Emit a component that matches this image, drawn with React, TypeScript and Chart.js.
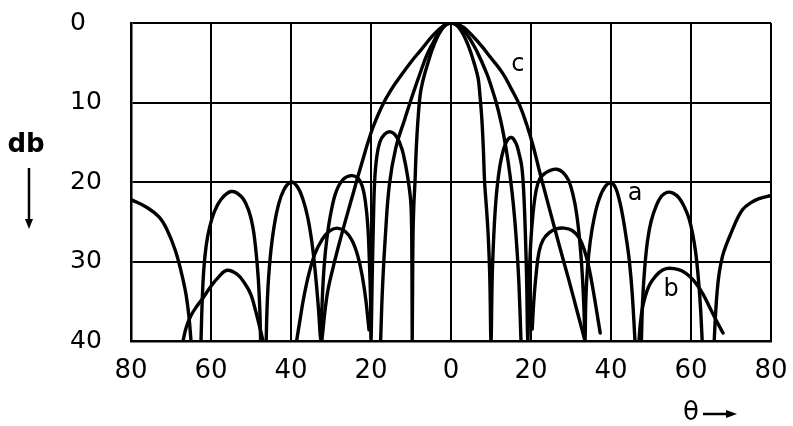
import React, { useEffect, useRef } from "react";
import { Chart, registerables } from "chart.js";

Chart.register(...registerables);

const xTicks = [-80, -60, -40, -20, 0, 20, 40, 60, 80];
const yTicks = [0, 10, 20, 30, 40];

// curve a (theta in degrees, level in db below peak; null = break between lobes)
const aTheta = [
  -80, -76, -73, -71, -69, -67.5, -66.3, -65.5, -65, -64,
  -62.5, -62.2, -61.8, -61.2, -60.4, -59.2, -57.5, -55, -52.5, -50.8, -49.6, -48.8, -48.2, -47.8, -47.6, -47,
  -46.2, -46, -45.6, -45, -44.2, -43.2, -41.8, -40, -38.4, -37, -35.8, -34.8, -34, -33.2,
  -32.5, -32.2, -31.7, -31, -30, -28.7, -27, -25, -23.3, -22.2, -21.4, -20.8, -20.4, -20.1,
  -20, -19.7, -19.4, -19.1, -18.6, -17.8, -16.6, -15.1, -13.6, -12.3, -11.3, -10.5, -10, -9.8,
  -9.7, -9.6, -9.5, -9.3, -9, -8.7, -8.3, -7.7, -7, -6, -4.2, -2, 0,
  2, 4.2, 6, 6.8, 7.2, 7.7, 8.1, 8.4, 8.9, 9.3, 9.7,
  10, 10.3, 10.7, 11.2, 11.8, 12.6, 13.8, 15.1, 16.3, 17, 17.7, 18.2, 18.6, 18.9,
  19.2, 19.5, 19.9, 20.5, 21.3, 22.2, 23.5, 25, 26.5, 28, 29.4, 30.5, 31.4, 32.2, 32.8, 33.2,
  33.5, 33.7, 34.1, 34.8, 35.8, 37, 38.5, 40, 41.2, 42.2, 43, 43.8, 44.6, 45.3, 46, 46.8,
  47.6, 47.9, 48.4, 49.1, 50, 51.3, 52.6, 54, 55.5, 57, 58.4, 59.5, 60.4, 61.2, 61.9, 62.4, 62.8, 64,
  65.8, 66.1, 66.5, 67.1, 67.9, 68.9, 70.2, 71.6, 73, 75, 77, 80,
];
const aDb = [
  22.2, 23.2, 24.4, 26, 28.5, 31.2, 34, 37, 40, null,
  40, 35, 31, 28, 25.8, 23.8, 22.2, 21.2, 21.8, 23.3, 25.5, 28.5, 32, 36, 40, null,
  40, 36, 32, 28.5, 25.5, 23, 21, 20, 20.6, 22.2, 24.5, 27.5, 31, 35.5,
  40, 35, 30.5, 27, 23.8, 21.2, 19.7, 19.2, 19.5, 20.5, 22.5, 25.5, 30, 35,
  40, 32, 25, 20, 17, 15, 14, 13.7, 14.3, 15.8, 18, 20.5, 23, 28,
  40, 33, 26.7, 23, 20, 16, 12.5, 9, 7.2, 5.4, 2.7, 0.6, 0,
  0.6, 2.7, 5.4, 7, 8.9, 12, 16, 20, 23.5, 26.7, 32,
  40, 32, 26.7, 22.5, 19.5, 17, 15, 14.4, 15.2, 16.4, 18.1, 21.5, 26.7, 32,
  40, 33, 28, 24, 21, 19.6, 18.9, 18.5, 18.4, 18.8, 19.8, 21.6, 24, 27.5, 31.5, 35.5,
  40, 35, 31, 27.5, 24.5, 22.2, 20.6, 20.1, 20.8, 22.5, 24.5, 27, 30, 34, 40, null,
  40, 35, 31, 27.5, 25, 23, 21.8, 21.3, 21.4, 22, 23.2, 24.6, 26.5, 29, 32.5, 36, 40, null,
  40, 37, 34, 31.3, 29.3, 27.8, 26.2, 24.6, 23.4, 22.6, 22.1, 21.7,
];

// curve b
const bTheta = [
  -67, -66.2, -65, -63.5, -62, -60, -58, -56, -53.5, -51.5, -50, -48.8, -47.8, -47, -43,
  -38.6, -37.8, -36.8, -35.5, -34, -32.3, -30.5, -28.5, -26.5, -24.8, -23.3, -22.2, -21.3, -20.5, -19,
  -17.6, -17.1, -16.4, -15.4, -13.8, -11.5, -9.5, -7.5, -6, -4.2, -2, 0,
  2, 4.2, 6.5, 8.9, 10.2, 11.3, 12.3, 13.2, 14.3, 15.2, 15.9, 16.5, 17, 17.5, 19,
  20.3, 20.7, 21.3, 22, 23, 24.5, 26.3, 28.3, 30.3, 32, 33.3, 34.5, 35.5, 36.5, 37.3, 42,
  47, 47.3, 47.8, 48.5, 49.3, 50.3, 52, 53.8, 55.8, 57.8, 59.7, 61.3, 63, 64.5, 66.3, 68,
];
const bDb = [
  40, 38.3, 36.8, 35.6, 34.6, 33.1, 31.9, 31.1, 31.6, 32.8, 34.2, 36.3, 38.3, 40, null,
  40, 37.5, 34.5, 31.5, 29, 27.3, 26.2, 25.8, 26.2, 27.3, 29.3, 31.8, 34.8, 38.6, null,
  40, 33, 26.7, 20.3, 15.7, 12, 8.9, 6, 4, 2.2, 0.5, 0,
  0.4, 1.6, 3.6, 6.3, 8.2, 10, 12, 14.2, 17.5, 21, 24.5, 28.5, 33, 40, null,
  38.5, 35, 31.5, 28.8, 27.3, 26.4, 25.9, 25.8, 26.1, 27, 28.5, 30.8, 33.5, 36.5, 39, null,
  40, 38, 36, 34.5, 33.3, 32.4, 31.4, 30.9, 30.9, 31.2, 31.9, 32.8, 34.1, 35.6, 37.4, 39,
];

// curve c
const cTheta = [-32.3, -31, -29.5, -27.5, -25, -22.4, -19.7, -17.2, -15.1, -12.5, -10, -7.7, -4.4, -1.5, 0, 1.9, 4, 7.3, 10, 12.9, 15.1, 17.2, 19, 20.5, 22, 23.3, 25, 27.3, 29.5, 31.5, 33.5];
const cDb = [40, 34.3, 30.8, 26.9, 22.4, 17.8, 13.4, 10.4, 8.5, 6.6, 4.9, 3.5, 1.5, 0.2, 0, 0.2, 0.9, 2.7, 4.4, 6.3, 8.3, 10.4, 12.9, 15.4, 18.4, 20.9, 24.1, 28.4, 32.4, 36.2, 40];

const curveNames = ["a", "b", "c"];
const labelTheta = [46, 55, 16.7];
const labelDb = [21.5, 33.6, 5.3];

const FONT = '"DejaVu Sans", sans-serif';

function toPoints(xs: number[], ys: (number | null)[]) {
  return xs.map((x, i) => ({ x, y: ys[i] }));
}

const decorPlugin = {
  id: "decor",
  afterDraw(chart: any) {
    const { ctx, chartArea, scales } = chart;
    ctx.save();
    ctx.fillStyle = "#000";
    ctx.strokeStyle = "#000";
    ctx.textAlign = "center";
    ctx.textBaseline = "middle";
    ctx.font = `24px ${FONT}`;
    curveNames.forEach((n, i) => {
      ctx.fillText(n, scales.x.getPixelForValue(labelTheta[i]), scales.y.getPixelForValue(labelDb[i]));
    });
    ctx.font = `bold 26px ${FONT}`;
    const dbx = chartArea.left - 105;
    const dby = chartArea.top + 122;
    ctx.fillText("db", dbx, dby);
    ctx.lineWidth = 2.5;
    const ax = chartArea.left - 102;
    ctx.beginPath();
    ctx.moveTo(ax, dby + 23);
    ctx.lineTo(ax, dby + 78);
    ctx.stroke();
    ctx.beginPath();
    ctx.moveTo(ax - 4, dby + 74);
    ctx.lineTo(ax + 4, dby + 74);
    ctx.lineTo(ax, dby + 84);
    ctx.closePath();
    ctx.fill();
    ctx.font = `26px ${FONT}`;
    const tx = chartArea.right - 80;
    const ty = chartArea.bottom + 72;
    ctx.fillText("θ", tx, ty);
    ctx.beginPath();
    ctx.moveTo(tx + 12, ty + 1);
    ctx.lineTo(tx + 38, ty + 1);
    ctx.stroke();
    ctx.beginPath();
    ctx.moveTo(tx + 35, ty - 3);
    ctx.lineTo(tx + 35, ty + 5);
    ctx.lineTo(tx + 46, ty + 1);
    ctx.closePath();
    ctx.fill();
    ctx.restore();
  },
};

export default function App() {
  const ref = useRef<HTMLCanvasElement | null>(null);

  useEffect(() => {
    document.body.style.margin = "0";
    document.body.style.background = "#fff";
    const canvas = ref.current;
    if (!canvas) return;
    const common = {
      borderColor: "#000",
      borderWidth: 3.4,
      pointRadius: 0,
      fill: false,
      spanGaps: false,
      tension: 0.4,
      borderJoinStyle: "round" as const,
      borderCapStyle: "round" as const,
    };
    const chart = new Chart(canvas, {
      type: "line",
      data: {
        datasets: [
          { label: "a", data: toPoints(aTheta, aDb), ...common },
          { label: "b", data: toPoints(bTheta, bDb), ...common },
          { label: "c", data: toPoints(cTheta, cDb), ...common },
        ],
      },
      options: {
        responsive: false,
        animation: false,
        events: [],
        layout: { padding: { left: 70, top: 23, right: 22, bottom: 0 } },
        plugins: { legend: { display: false }, tooltip: { enabled: false }, title: { display: false } },
        scales: {
          x: {
            type: "linear",
            min: -80,
            max: 80,
            afterBuildTicks: (s: any) => {
              s.ticks = xTicks.map((v) => ({ value: v }));
            },
            afterFit: (s: any) => {
              s.height = 85;
              s.paddingLeft = 0;
              s.paddingRight = 0;
            },
            ticks: {
              callback: (v: any) => String(Math.abs(Number(v))),
              font: { family: FONT, size: 26 },
              color: "#000",
              padding: 15,
              maxRotation: 0,
              autoSkip: false,
            },
            grid: { color: "#000", lineWidth: 2, drawTicks: false },
            border: { color: "#000", width: 2.5 },
          },
          y: {
            type: "linear",
            reverse: true,
            min: 0,
            max: 40,
            afterBuildTicks: (s: any) => {
              s.ticks = yTicks.map((v) => ({ value: v }));
            },
            afterFit: (s: any) => {
              s.width = 61;
              s.paddingTop = 0;
              s.paddingBottom = 0;
            },
            ticks: {
              font: { family: FONT, size: 25 },
              color: "#000",
              crossAlign: "far",
              padding: 0,
            },
            grid: { color: "#000", lineWidth: 2, drawTicks: false },
            border: { color: "#000", width: 2.5 },
          },
        },
      },
      plugins: [decorPlugin],
    });
    return () => chart.destroy();
  }, []);

  return (
    <div style={{ width: 793, height: 426, position: "relative", background: "#fff" }}>
      <canvas ref={ref} width={793} height={426} style={{ display: "block", width: 793, height: 426 }} />
    </div>
  );
}
